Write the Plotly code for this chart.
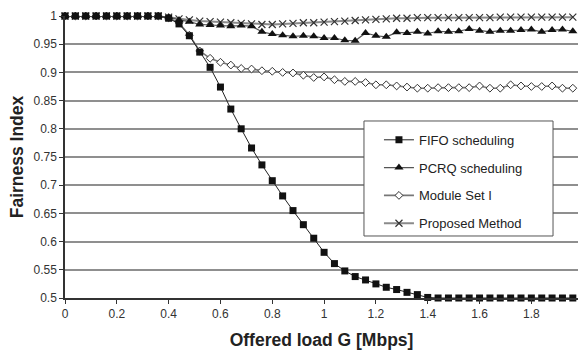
import plotly.graph_objects as go

load_g = [0.00, 0.04, 0.08, 0.12, 0.16, 0.20, 0.24, 0.28, 0.32, 0.36,
          0.40, 0.44, 0.48, 0.52, 0.56, 0.60, 0.64, 0.68, 0.72, 0.76,
          0.80, 0.84, 0.88, 0.92, 0.96, 1.00, 1.04, 1.08, 1.12, 1.16,
          1.20, 1.24, 1.28, 1.32, 1.36, 1.40, 1.44, 1.48, 1.52, 1.56,
          1.60, 1.64, 1.68, 1.72, 1.76, 1.80, 1.84, 1.88, 1.92, 1.96]

fifo = [1, 1, 1, 1, 1, 1, 1, 1, 1, 1,
        0.996, 0.986, 0.965, 0.936, 0.909, 0.874, 0.835, 0.800, 0.766, 0.736,
        0.708, 0.681, 0.655, 0.630, 0.606, 0.581, 0.561, 0.548, 0.538, 0.532,
        0.525, 0.519, 0.515, 0.510, 0.506, 0.501, 0.5, 0.5, 0.5, 0.5,
        0.5, 0.5, 0.5, 0.5, 0.5, 0.5, 0.5, 0.5, 0.5, 0.5]

pcrq = [1, 1, 1, 1, 1, 1, 1, 1, 1, 1,
        0.998, 0.993, 0.990, 0.985, 0.984, 0.983, 0.982, 0.983, 0.982, 0.972,
        0.968, 0.966, 0.964, 0.965, 0.964, 0.961, 0.961, 0.957, 0.956, 0.970,
        0.965, 0.963, 0.971, 0.970, 0.972, 0.969, 0.973, 0.972, 0.973, 0.977,
        0.974, 0.972, 0.974, 0.974, 0.975, 0.976, 0.972, 0.975, 0.976, 0.973]

module_set = [1, 1, 1, 1, 1, 1, 1, 1, 1, 1,
              0.997, 0.988, 0.966, 0.938, 0.925, 0.918, 0.913, 0.907, 0.906, 0.903,
              0.902, 0.900, 0.899, 0.895, 0.891, 0.892, 0.887, 0.884, 0.884, 0.882,
              0.878, 0.878, 0.876, 0.874, 0.872, 0.872, 0.873, 0.873, 0.873, 0.873,
              0.876, 0.872, 0.872, 0.878, 0.876, 0.875, 0.875, 0.876, 0.872, 0.872]

proposed = [1, 1, 1, 1, 1, 1, 1, 1, 1, 1,
            0.998, 0.995, 0.993, 0.991, 0.990, 0.989, 0.988, 0.987, 0.986, 0.985,
            0.985, 0.986, 0.987, 0.988, 0.988, 0.989, 0.990, 0.991, 0.992, 0.993,
            0.994, 0.995, 0.996, 0.996, 0.997, 0.997, 0.997, 0.997, 0.997, 0.997,
            0.997, 0.997, 0.998, 0.998, 0.998, 0.998, 0.998, 0.998, 0.998, 0.998]

x_ticks = [0, 0.2, 0.4, 0.6, 0.8, 1.0, 1.2, 1.4, 1.6, 1.8]
x_tick_text = ["0", "0.2", "0.4", "0.6", "0.8", "1", "1.2", "1.4", "1.6", "1.8"]
y_ticks = [0.5, 0.55, 0.6, 0.65, 0.7, 0.75, 0.8, 0.85, 0.9, 0.95, 1.0]
y_tick_text = ["0.5", "0.55", "0.6", "0.65", "0.7", "0.75", "0.8", "0.85", "0.9", "0.95", "1"]

FONT = "Liberation Sans, Arial, sans-serif"

fig = go.Figure()

# drawn bottom-to-top; legendrank puts FIFO first in the legend
fig.add_trace(go.Scatter(
    x=load_g, y=proposed, name="Proposed Method", mode="lines+markers",
    legendgroup="d", legendrank=4, cliponaxis=False,
    line=dict(color="#8a8a8a", width=2),
    marker=dict(symbol="x-thin", size=7, line=dict(color="#333333", width=1.2), color="#333333")))
fig.add_trace(go.Scatter(
    x=load_g, y=module_set, name="Module Set I", mode="lines+markers",
    legendgroup="c", legendrank=3, cliponaxis=False,
    line=dict(color="#777777", width=1.6),
    marker=dict(symbol="diamond", size=6, color="white", line=dict(color="#333333", width=1))))
fig.add_trace(go.Scatter(
    x=load_g, y=pcrq, name="PCRQ scheduling", mode="lines+markers",
    legendgroup="b", legendrank=2, cliponaxis=False,
    line=dict(color="#555555", width=1.2),
    marker=dict(symbol="triangle-up", size=8, color="#111111")))
fig.add_trace(go.Scatter(
    x=load_g, y=fifo, name="FIFO scheduling", mode="lines+markers",
    legendgroup="a", legendrank=1, cliponaxis=False,
    line=dict(color="#222222", width=1),
    marker=dict(symbol="square", size=7, color="#111111")))

# legend frame
fig.add_shape(type="rect", xref="paper", yref="paper",
              x0=0.5828, x1=0.9513, y0=0.2199, y1=0.6277,
              line=dict(color="#555555", width=1), fillcolor="white", layer="above")

fig.update_layout(
    width=578, height=350,
    margin=dict(l=65, r=0, t=16, b=52),
    paper_bgcolor="white", plot_bgcolor="white",
    font=dict(family=FONT, color="#222222", size=12),
    showlegend=True,
    legend=dict(
        x=0.612, y=0.614, xanchor="left", yanchor="top",
        bgcolor="rgba(0,0,0,0)", borderwidth=0,
        font=dict(size=13, family=FONT, color="#222222"),
        traceorder="grouped", tracegroupgap=7.9,
        itemwidth=30,
    ),
    xaxis=dict(
        range=[0, 1.98], tickvals=x_ticks, ticktext=x_tick_text,
        showgrid=False, zeroline=False,
        showline=True, linecolor="#333333", linewidth=1.5,
        ticks="outside", ticklen=4, tickcolor="#333333",
        tickfont=dict(size=12, family=FONT, color="#333333"),
        title=dict(text="<b>Offered load G [Mbps]</b>",
                   font=dict(size=17.5, family=FONT, color="#222222"), standoff=14),
    ),
    yaxis=dict(
        range=[0.5, 1.0], tickvals=y_ticks, ticktext=y_tick_text,
        showgrid=True, gridcolor="#8f8f8f", gridwidth=1.5,
        zeroline=False,
        showline=True, linecolor="#333333", linewidth=1.5,
        ticks="outside", ticklen=4, tickcolor="#333333",
        tickfont=dict(size=12, family=FONT, color="#333333"),
        title=dict(text="<b>Fairness Index</b>",
                   font=dict(size=17.5, family=FONT, color="#222222"), standoff=5),
    ),
)

fig.write_html("out.html")
